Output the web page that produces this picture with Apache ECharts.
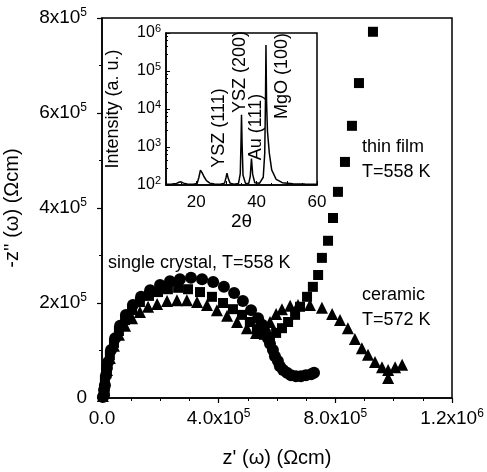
<!DOCTYPE html>
<html>
<head>
<meta charset="utf-8">
<script src="https://cdn.jsdelivr.net/npm/echarts@6/dist/echarts.min.js"></script>
<style>
  html, body { margin: 0; padding: 0; background: #fff; }
  #chart { width: 487px; height: 472px; }
</style>
</head>
<body>
<div id="chart"></div>
<script>
// impedance data, [z', -z''] in Ohm cm
const singleCrystal = [
  [0.03e5, 0.02e5], [0.07e5, 0.06e5], [0.07e5, 0.17e5], [0.10e5, 0.27e5], [0.14e5, 0.48e5],
  [0.17e5, 0.63e5], [0.21e5, 0.76e5], [0.31e5, 1.01e5], [0.45e5, 1.26e5], [0.62e5, 1.52e5],
  [0.82e5, 1.75e5], [1.06e5, 1.96e5], [1.34e5, 2.13e5], [1.65e5, 2.27e5], [1.99e5, 2.38e5],
  [2.33e5, 2.46e5], [2.67e5, 2.50e5], [3.05e5, 2.53e5], [3.43e5, 2.50e5], [3.81e5, 2.44e5],
  [4.18e5, 2.34e5], [4.53e5, 2.21e5], [4.83e5, 2.04e5], [5.11e5, 1.85e5], [5.35e5, 1.68e5],
  [5.49e5, 1.54e5], [5.59e5, 1.39e5], [5.69e5, 1.26e5], [5.76e5, 1.14e5], [5.86e5, 1.01e5],
  [5.93e5, 0.88e5], [6.03e5, 0.78e5], [6.10e5, 0.67e5], [6.21e5, 0.59e5], [6.34e5, 0.53e5],
  [6.48e5, 0.48e5], [6.65e5, 0.46e5], [6.82e5, 0.46e5], [6.99e5, 0.48e5], [7.17e5, 0.50e5],
  [7.27e5, 0.53e5]
];
const thinFilm = [
  [0.07e5, 0.17e5], [0.10e5, 0.38e5], [0.17e5, 0.63e5], [0.27e5, 0.90e5], [0.41e5, 1.16e5],
  [0.58e5, 1.41e5], [0.79e5, 1.64e5], [1.03e5, 1.85e5], [1.30e5, 2.02e5], [1.61e5, 2.15e5],
  [1.92e5, 2.23e5], [2.26e5, 2.29e5], [2.61e5, 2.32e5], [2.95e5, 2.29e5], [3.36e5, 2.23e5],
  [3.77e5, 2.13e5], [4.15e5, 2.00e5], [4.49e5, 1.87e5], [4.80e5, 1.75e5], [5.07e5, 1.60e5],
  [5.31e5, 1.45e5], [5.55e5, 1.33e5], [5.76e5, 1.28e5], [5.97e5, 1.37e5], [6.17e5, 1.47e5],
  [6.38e5, 1.60e5], [6.62e5, 1.75e5], [6.79e5, 1.92e5], [7.03e5, 2.13e5], [7.23e5, 2.34e5],
  [7.41e5, 2.59e5], [7.54e5, 2.95e5], [7.75e5, 3.31e5], [7.92e5, 3.79e5], [8.09e5, 4.34e5],
  [8.33e5, 4.97e5], [8.57e5, 5.73e5], [8.81e5, 6.63e5], [9.29e5, 7.71e5]
];
const ceramic = [
  [0.03e5, 0.04e5], [0.07e5, 0.21e5], [0.10e5, 0.38e5], [0.17e5, 0.59e5], [0.27e5, 0.84e5],
  [0.41e5, 1.10e5], [0.58e5, 1.33e5], [0.79e5, 1.52e5], [1.03e5, 1.68e5], [1.30e5, 1.81e5],
  [1.58e5, 1.92e5], [1.89e5, 1.98e5], [2.23e5, 2.04e5], [2.57e5, 2.06e5], [2.91e5, 2.06e5],
  [3.26e5, 2.02e5], [3.60e5, 1.96e5], [3.94e5, 1.85e5], [4.29e5, 1.73e5], [4.63e5, 1.60e5],
  [4.97e5, 1.47e5], [5.28e5, 1.37e5], [5.55e5, 1.37e5], [5.76e5, 1.60e5], [5.97e5, 1.77e5],
  [6.17e5, 1.87e5], [6.45e5, 1.94e5], [6.72e5, 1.96e5], [7.13e5, 1.96e5], [7.54e5, 1.90e5],
  [7.89e5, 1.77e5], [8.16e5, 1.64e5], [8.43e5, 1.47e5], [8.67e5, 1.24e5], [8.91e5, 1.05e5],
  [9.12e5, 0.91e5], [9.36e5, 0.76e5], [9.60e5, 0.65e5], [9.81e5, 0.59e5], [10.05e5, 0.65e5],
  [10.29e5, 0.70e5], [9.81e5, 0.42e5]
];
// inset: XRD pattern, [2theta, intensity]
const xrd = [
  [10, 105], [12, 106], [13.5, 110], [14.3, 118], [15, 121], [15.8, 112], [17, 106], [19, 105],
  [20.3, 110], [20.9, 160], [21.4, 245], [21.9, 215], [22.6, 165], [23.4, 130], [24.5, 112],
  [26, 106], [28, 105], [29.4, 112], [29.9, 160], [30.2, 205], [30.6, 150], [31.2, 112],
  [32.5, 105], [34, 110], [34.6, 200], [34.85, 1500], [35.0, 7000], [35.2, 1200], [35.5, 180],
  [36.3, 112], [37.4, 110], [37.9, 170], [38.3, 500], [38.7, 190], [39.4, 115], [41, 112],
  [42.2, 160], [42.7, 700], [42.95, 20000], [43.1, 480000], [43.3, 15000], [43.6, 2600],
  [44.2, 700], [45, 250], [46.5, 140], [48.5, 115], [52, 108], [56, 106], [60, 105]
];
// tick label text: [mantissa part, exponent]
const mainXTicks = {0: ['0.0', ''], 400000: ['4.0x10', '5'], 800000: ['8.0x10', '5'], 1200000: ['1.2x10', '6']};
const insetXTicks = [20, 40, 60];

const FONT = 'Liberation Sans, Arial, Helvetica, sans-serif';
const chart = echarts.init(document.getElementById('chart'));

const rich = {
  b: {fontSize: 19, fontFamily: FONT, color: '#000', lineHeight: 22},
  s: {fontSize: 12, fontFamily: FONT, color: '#000', verticalAlign: 'top', lineHeight: 12}
};
const richSmall = {
  b: {fontSize: 16, fontFamily: FONT, color: '#000', lineHeight: 19},
  s: {fontSize: 11, fontFamily: FONT, color: '#000', verticalAlign: 'top', lineHeight: 11}
};

function txt(text, x, y, rot) {
  return {
    type: 'text', x: x, y: y, rotation: rot || 0,
    style: {text: text, fill: '#000', font: '18px ' + FONT,
      align: rot ? 'center' : 'left', verticalAlign: 'middle'}
  };
}

function sup(parts) {
  return parts[1] ? '{b|' + parts[0] + '}{s|' + parts[1] + '}' : '{b|' + parts[0] + '}';
}

chart.setOption({
  animation: false,
  backgroundColor: '#fff',
  grid: [
    {left: 102, top: 18, width: 350, height: 380, outerBoundsMode: 'none', containLabel: false,
      show: true, borderColor: '#000', borderWidth: 1.5},
    {left: 166, top: 33, width: 151, height: 152, outerBoundsMode: 'none', containLabel: false,
      show: true, borderColor: '#000', borderWidth: 1.5, backgroundColor: '#fff'}
  ],
  xAxis: [
    {
      type: 'value', gridIndex: 0, min: 0, max: 1200000, interval: 400000,
      axisLine: {lineStyle: {color: '#000', width: 1.5}},
      axisTick: {length: 5, lineStyle: {color: '#000', width: 1.2}},
      minorTick: {show: true, splitNumber: 4, length: 3, lineStyle: {color: '#000', width: 1}},
      splitLine: {show: false},
      axisLabel: {margin: 10, formatter: v => sup(mainXTicks[v]), rich: rich},
      name: "z' (\u03c9) (\u03a9cm)", nameLocation: 'middle', nameGap: 50,
      nameTextStyle: {fontSize: 20, fontFamily: FONT, color: '#000'}
    },
    {
      type: 'value', gridIndex: 1, min: 10, max: 60, interval: 10,
      axisLine: {lineStyle: {color: '#000', width: 1.5}},
      axisTick: {inside: true, length: 4, lineStyle: {color: '#000', width: 1}},
      minorTick: {show: true, splitNumber: 2, length: 2, lineStyle: {color: '#000'}},
      splitLine: {show: false},
      axisLabel: {margin: 9, fontSize: 17, fontFamily: FONT, color: '#000',
        formatter: v => insetXTicks.indexOf(v) >= 0 ? String(v) : ''},
      name: '2\u03b8', nameLocation: 'middle', nameGap: 25,
      nameTextStyle: {fontSize: 19, fontFamily: FONT, color: '#000'}
    }
  ],
  yAxis: [
    {
      type: 'value', gridIndex: 0, min: 0, max: 800000, interval: 200000,
      axisLine: {lineStyle: {color: '#000', width: 1.5}},
      axisTick: {length: 5, lineStyle: {color: '#000', width: 1.2}},
      minorTick: {show: true, splitNumber: 2, length: 3, lineStyle: {color: '#000', width: 1}},
      splitLine: {show: false},
      axisLabel: {margin: 15, rich: rich,
        formatter: v => v === 0 ? '{b|0}' : '{b|' + (v / 100000) + 'x10}{s|5}'},
      name: "-z'' (\u03c9) (\u03a9cm)", nameLocation: 'middle', nameGap: 80,
      nameTextStyle: {fontSize: 20, fontFamily: FONT, color: '#000'}
    },
    {
      type: 'log', gridIndex: 1, min: 100, max: 1000000, logBase: 10,
      axisLine: {lineStyle: {color: '#000', width: 1.5}},
      axisTick: {inside: true, length: 4, lineStyle: {color: '#000', width: 1}},
      minorTick: {show: true, splitNumber: 5, length: 2, lineStyle: {color: '#000'}},
      splitLine: {show: false},
      axisLabel: {margin: 5, rich: richSmall,
        formatter: v => '{b|10}{s|' + Math.round(Math.log10(v)) + '}'},
      name: 'Intensity (a. u.)', nameLocation: 'middle', nameGap: 44,
      nameTextStyle: {fontSize: 18, fontFamily: FONT, color: '#000'}
    }
  ],
  series: [
    {type: 'scatter', xAxisIndex: 0, yAxisIndex: 0, symbol: 'triangle', symbolSize: 12,
      itemStyle: {color: '#000', opacity: 1}, data: ceramic},
    {type: 'scatter', xAxisIndex: 0, yAxisIndex: 0, symbol: 'rect', symbolSize: 10,
      itemStyle: {color: '#000', opacity: 1}, data: thinFilm},
    {type: 'scatter', xAxisIndex: 0, yAxisIndex: 0, symbol: 'circle', symbolSize: 12,
      itemStyle: {color: '#000', opacity: 1}, data: singleCrystal},
    {type: 'line', xAxisIndex: 1, yAxisIndex: 1, showSymbol: false, symbol: 'none',
      lineStyle: {color: '#000', width: 1.5}, data: xrd}
  ],
  graphic: [
    txt('single crystal, T=558 K', 108, 263),
    txt('thin film', 362, 147),
    txt('T=558 K', 362, 172),
    txt('ceramic', 362, 295),
    txt('T=572 K', 362, 320),
    txt('YSZ (111)', 219, 128, Math.PI / 2),
    txt('YSZ (200)', 240, 72, Math.PI / 2),
    txt('Au (111)', 256, 127, Math.PI / 2),
    txt('MgO (100)', 282, 76, Math.PI / 2)
  ]
});
</script>
</body>
</html>
